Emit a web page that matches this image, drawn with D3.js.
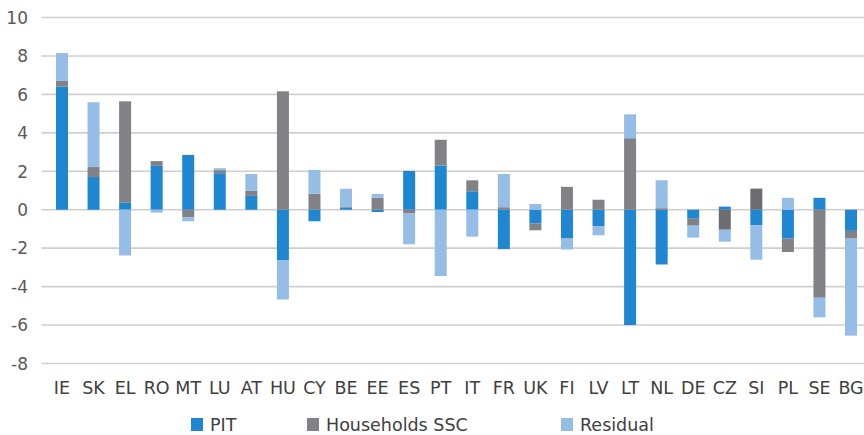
<!DOCTYPE html>
<html>
<head>
<meta charset="utf-8">
<script src="https://cdn.jsdelivr.net/npm/d3@7/dist/d3.min.js"></script>
<style>
  html, body { margin: 0; padding: 0; background: #fff; }
  svg { display: block; }
  text { font-family: "DejaVu Sans", sans-serif; }
</style>
</head>
<body>
<svg id="chart" width="864" height="435"></svg>
<script>
const categories = ["IE","SK","EL","RO","MT","LU","AT","HU","CY","BE","EE","ES","PT","IT","FR","UK","FI","LV","LT","NL","DE","CZ","SI","PL","SE","BG"];
const pit       = [6.4, 1.7, 0.36, 2.28, 2.85, 1.9, 0.72, -2.62, -0.6, 0.12, -0.12, 2.02, 2.3, 0.96, -2.05, -0.72, -1.5, -0.85, -6.0, -2.85, -0.47, 0.16, -0.8, -1.5, 0.62, -1.1];
const ssc       = [0.3, 0.52, 5.28, 0.25, -0.4, 0.16, 0.26, 6.16, 0.83, 0.05, 0.62, -0.2, 1.34, 0.57, 0.13, -0.35, 1.19, 0.52, 3.72, 0.08, -0.36, -1.04, 1.1, -0.7, -4.58, -0.4];
const residual  = [1.45, 3.37, -2.38, -0.15, -0.2, 0.1, 0.88, -2.05, 1.24, 0.92, 0.2, -1.6, -3.45, -1.4, 1.73, 0.3, -0.57, -0.48, 1.24, 1.45, -0.62, -0.62, -1.8, 0.62, -1.02, -5.05];
const seriesNames = ["PIT", "Households SSC", "Residual"];
const yTicks = [-8, -6, -4, -2, 0, 2, 4, 6, 8, 10];
const darkSSC = ["CZ", "SI"];

const colors = {"PIT": "#1f86d1", "Households SSC": "#818286", "Residual": "#95bde6"};
const darkGray = "#6c6d71";

const rows = categories.map((c, i) => ({cat: c, "PIT": pit[i], "Households SSC": ssc[i], "Residual": residual[i]}));

const svg = d3.select("#chart");
const x = d3.scaleBand().domain(categories).range([46.2, 866.8]).paddingInner(0.62).paddingOuter(0.31);
const y = d3.scaleLinear().domain([-8, 10]).range([363.5, 17.5]);

// gridlines
svg.append("g").selectAll("line").data(yTicks).join("line")
  .attr("x1", 41.5).attr("x2", 864)
  .attr("y1", d => y(d)).attr("y2", d => y(d))
  .attr("stroke", "#cfcfcf").attr("stroke-width", 1.6);

// y axis labels
const yAxis = d3.axisLeft(y).tickValues(yTicks).tickSize(0).tickPadding(0).tickFormat(d => String(d));
const yg = svg.append("g").attr("transform", "translate(28,0)").call(yAxis);
yg.select(".domain").remove();
yg.selectAll("text").attr("font-size", 17).attr("fill", "#5a5a5a").attr("font-family", "DejaVu Sans").attr("dy", "0.34em");

const stack = d3.stack().keys(seriesNames).offset(d3.stackOffsetDiverging);
const stacked = stack(rows);

svg.append("g").selectAll("g").data(stacked).join("g")
  .each(function(s) {
    d3.select(this).selectAll("rect").data(s).join("rect")
      .attr("x", d => x(d.data.cat))
      .attr("width", x.bandwidth())
      .attr("y", d => y(Math.max(d[0], d[1])))
      .attr("height", d => Math.abs(y(d[0]) - y(d[1])))
      .attr("fill", d => (s.key === "Households SSC" && darkSSC.includes(d.data.cat)) ? darkGray : colors[s.key]);
  });

// x axis labels
const xAxis = d3.axisBottom(x).tickSize(0).tickPadding(0);
const xg = svg.append("g").attr("transform", "translate(0,382)").call(xAxis);
xg.select(".domain").remove();
xg.selectAll("text").attr("font-size", 17.5).attr("fill", "#404040").attr("font-family", "DejaVu Sans").attr("dy", "0.71em");

// legend
const legendX = [191, 307, 561];
const lg = svg.append("g").selectAll("g").data(seriesNames).join("g")
  .attr("transform", (d, i) => `translate(${legendX[i]},418)`);
lg.append("rect").attr("width", 12).attr("height", 13).attr("fill", d => colors[d]);
lg.append("text").attr("x", 19).attr("y", 13).attr("font-size", 17.5).attr("fill", "#404040").text(d => d);
</script>
</body>
</html>
